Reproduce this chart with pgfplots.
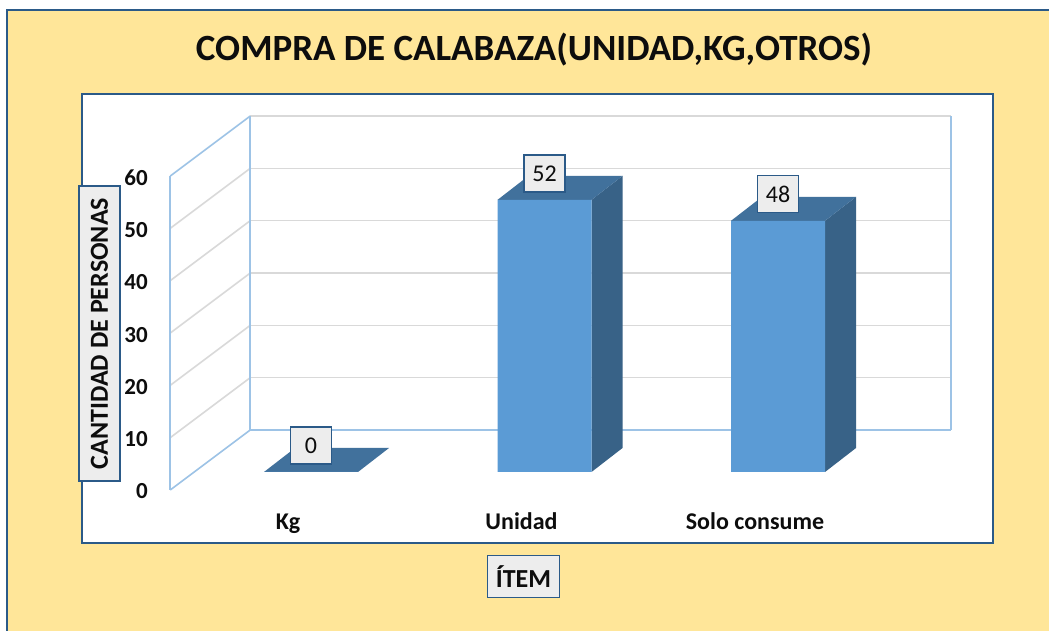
\documentclass[border=0pt]{standalone}
\usepackage{pgfplots}
\pgfplotsset{compat=1.18}
\usepackage{fontspec}
\setmainfont{Carlito}
\definecolor{bgyellow}{HTML}{FFE699}
\definecolor{frameblue}{HTML}{2B5A88}
\definecolor{wallblue}{HTML}{9DC3E6}
\definecolor{gridgray}{HTML}{D9D9D9}
\definecolor{barfront}{HTML}{5B9BD5}
\definecolor{bartop}{HTML}{41719C}
\definecolor{barside}{HTML}{386287}
\definecolor{boxgray}{HTML}{EDEDED}
\definecolor{txt}{HTML}{0D0D0D}
\begin{document}
\begin{tikzpicture}[x=1pt,y=1pt]
\path[use as bounding box] (0pt,0pt) rectangle (1049pt,631pt);
\begin{scope}
\clip (0pt,0pt) rectangle (1049pt,631pt);
\fill[white] (0pt,0pt) rectangle (1049pt,631pt);
\filldraw[fill=bgyellow, draw=frameblue, line width=2.5pt] (7pt,-10pt) rectangle (1070pt,621pt);
\filldraw[fill=white, draw=frameblue, line width=2.5pt] (82pt,88pt) rectangle (993pt,537pt);
\end{scope}
\begin{axis}[
  at={(77.5pt,106.67pt)}, anchor=south west,
  x=233.5pt, y=5.233pt,
  xmin=-1, xmax=3, ymin=-10, ymax=80,
  enlargelimits=false, clip=false,
  axis line style={draw=none}, major tick length=0pt,
  xtick={0,1,2}, xticklabels={Kg,Unidad,Solo consume},
  ytick={0,10,20,30,40,50,60},
  /pgf/number format/assume math mode=true,
  xticklabel style={anchor=base, xshift=-23pt, yshift=-4.7pt, text=txt, font=\bfseries\fontsize{24}{28}\selectfont},
  yticklabel style={anchor=base east, inner sep=0pt, xshift=70.5pt, yshift=-27pt, text=txt, font=\bfseries\fontsize{23}{27}\selectfont},
  title={COMPRA DE CALABAZA(UNIDAD,KG,OTROS)},
  title style={at={(0.4888,0.9731)}, anchor=base, inner sep=0pt, text=txt, font=\bfseries\fontsize{37}{40}\selectfont},
  ylabel={CANTIDAD DE PERSONAS},
  ylabel style={at={(0.02355,0.4052)}, anchor=center, draw=frameblue, fill=boxgray, line width=1.5pt, minimum width=295pt, minimum height=41pt, inner sep=0pt, text=txt, font=\bfseries\fontsize{26}{30}\selectfont},
  xlabel={ÍTEM},
  xlabel style={at={(0.4775,-0.1108)}, anchor=center, draw=frameblue, fill=boxgray, line width=1.5pt, minimum width=72pt, minimum height=42pt, inner sep=0pt, text=txt, font=\bfseries\fontsize{26}{30}\selectfont},
]
% back wall gridlines
\addplot[gridgray, line width=1.6pt] coordinates {(-0.2602,18.026) (2.7398,18.026)};
\addplot[gridgray, line width=1.6pt] coordinates {(-0.2602,28.026) (2.7398,28.026)};
\addplot[gridgray, line width=1.6pt] coordinates {(-0.2602,38.026) (2.7398,38.026)};
\addplot[gridgray, line width=1.6pt] coordinates {(-0.2602,48.026) (2.7398,48.026)};
\addplot[gridgray, line width=1.6pt] coordinates {(-0.2602,58.026) (2.7398,58.026)};
\addplot[gridgray, line width=1.6pt] coordinates {(-0.2602,68.026) (2.7398,68.026)};
% left wall gridlines
\addplot[gridgray, line width=1.6pt] coordinates {(-0.6028,6.56) (-0.2602,18.026)};
\addplot[gridgray, line width=1.6pt] coordinates {(-0.6028,16.56) (-0.2602,28.026)};
\addplot[gridgray, line width=1.6pt] coordinates {(-0.6028,26.56) (-0.2602,38.026)};
\addplot[gridgray, line width=1.6pt] coordinates {(-0.6028,36.56) (-0.2602,48.026)};
\addplot[gridgray, line width=1.6pt] coordinates {(-0.6028,46.56) (-0.2602,58.026)};
% wall edges
\addplot[wallblue, line width=1.6pt] coordinates {(-0.6028,56.56) (-0.2602,68.026)};
\addplot[wallblue, line width=1.6pt] coordinates {(-0.6028,-3.44) (-0.2602,8.026) (2.7398,8.026)};
\addplot[wallblue, line width=1.6pt] coordinates {(-0.6028,-3.44) (-0.6028,56.56)};
\addplot[wallblue, line width=1.6pt] coordinates {(-0.2602,8.026) (-0.2602,68.026)};
\addplot[wallblue, line width=1.6pt] coordinates {(2.7398,8.026) (2.7398,68.026)};
% bar side and top faces (value 0, 52, 48)
\addplot[fill=bartop, draw=none] coordinates {(-0.2013,0) (0.2013,0) (0.3341,4.586) (-0.0685,4.586)} -- cycle;
\addplot[fill=barside, draw=none] coordinates {(1.2013,0) (1.3341,4.586) (1.3341,56.586) (1.2013,52)} -- cycle;
\addplot[fill=bartop, draw=none] coordinates {(0.7987,52) (1.2013,52) (1.3341,56.586) (0.9315,56.586)} -- cycle;
\addplot[fill=barside, draw=none] coordinates {(2.2013,0) (2.3341,4.586) (2.3341,52.586) (2.2013,48)} -- cycle;
\addplot[fill=bartop, draw=none] coordinates {(1.7987,48) (2.2013,48) (2.3341,52.586) (1.9315,52.586)} -- cycle;
% front faces
\addplot[ybar, bar width=0.4026, fill=barfront, draw=none,
  nodes near coords,
  nodes near coords style={anchor=center, yshift=26.5pt, draw=frameblue, fill=boxgray, line width=1.3pt, minimum width=41pt, minimum height=37pt, inner sep=0pt, text=txt, font=\fontsize{24}{28}\selectfont}]
  coordinates {(0,0) (1,52) (2,48)};
\end{axis}
\end{tikzpicture}
\end{document}
